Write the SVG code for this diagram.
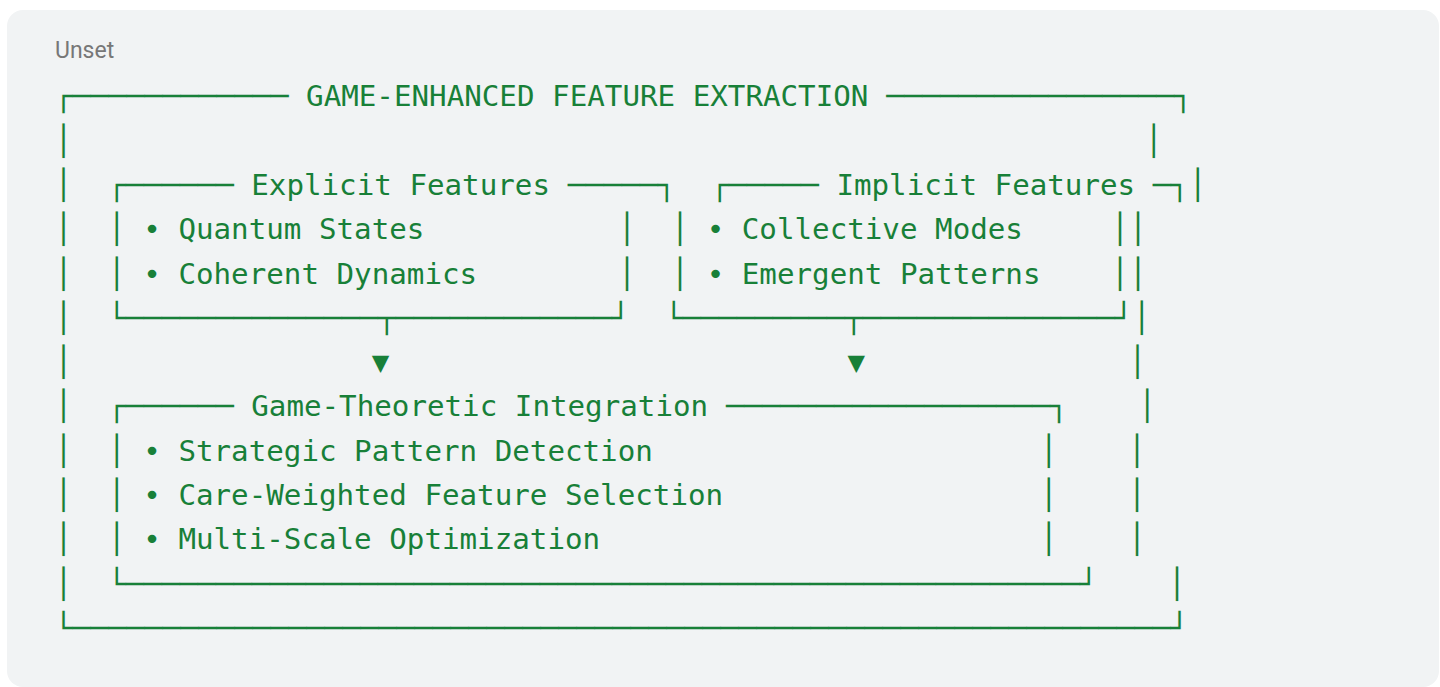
<svg xmlns="http://www.w3.org/2000/svg" width="1440" height="687" viewBox="0 0 1440 687">
<style>
.t{font-family:"DejaVu Sans Mono","Liberation Mono",monospace;font-size:29.2px;fill:#188038}
.b{font-family:"DejaVu Sans Mono","Liberation Mono",monospace;font-size:29.2px;fill:#188038}
.lbl{font-family:Roboto,"Liberation Sans",sans-serif;font-size:23px;fill:#777777}
.arr{font-family:"DejaVu Sans Mono","DejaVu Sans",monospace;font-size:29.2px;fill:#188038}
</style>
<rect x="7" y="10" width="1432" height="677" rx="16" fill="#f1f3f4"/>
<text class="lbl" x="55" y="58">Unset</text>

<g id="outer-box">
<text class="b" x="54.5" y="106.3" textLength="234" lengthAdjust="spacingAndGlyphs">┌────────────</text>
<text class="t" x="306.08" y="106.3">GAME-ENHANCED FEATURE EXTRACTION</text>
<text class="b" x="886.22" y="106.3" textLength="306" lengthAdjust="spacingAndGlyphs">────────────────┐</text>
<text class="b" x="54.5" y="150.6" textLength="18" lengthAdjust="spacingAndGlyphs">│</text>
<text class="b" x="1144.88" y="150.6" textLength="18" lengthAdjust="spacingAndGlyphs">│</text>
<text class="b" x="54.5" y="194.9" textLength="18" lengthAdjust="spacingAndGlyphs">│</text>
<text class="b" x="1188.86" y="194.9" textLength="18" lengthAdjust="spacingAndGlyphs">│</text>
<text class="b" x="54.5" y="239.2" textLength="18" lengthAdjust="spacingAndGlyphs">│</text>
<text class="b" x="1128.98" y="239.2" textLength="18" lengthAdjust="spacingAndGlyphs">│</text>
<text class="b" x="54.5" y="283.5" textLength="18" lengthAdjust="spacingAndGlyphs">│</text>
<text class="b" x="1128.98" y="283.5" textLength="18" lengthAdjust="spacingAndGlyphs">│</text>
<text class="b" x="54.5" y="327.8" textLength="18" lengthAdjust="spacingAndGlyphs">│</text>
<text class="b" x="1132.82" y="327.8" textLength="18" lengthAdjust="spacingAndGlyphs">│</text>
<text class="b" x="54.5" y="372.1" textLength="18" lengthAdjust="spacingAndGlyphs">│</text>
<text class="b" x="1128.6" y="372.1" textLength="18" lengthAdjust="spacingAndGlyphs">│</text>
<text class="b" x="54.5" y="416.4" textLength="18" lengthAdjust="spacingAndGlyphs">│</text>
<text class="b" x="1138.22" y="416.4" textLength="18" lengthAdjust="spacingAndGlyphs">│</text>
<text class="b" x="54.5" y="460.7" textLength="18" lengthAdjust="spacingAndGlyphs">│</text>
<text class="b" x="1128.14" y="460.7" textLength="18" lengthAdjust="spacingAndGlyphs">│</text>
<text class="b" x="54.5" y="505" textLength="18" lengthAdjust="spacingAndGlyphs">│</text>
<text class="b" x="1128.14" y="505" textLength="18" lengthAdjust="spacingAndGlyphs">│</text>
<text class="b" x="54.5" y="549.3" textLength="18" lengthAdjust="spacingAndGlyphs">│</text>
<text class="b" x="1128.14" y="549.3" textLength="18" lengthAdjust="spacingAndGlyphs">│</text>
<text class="b" x="54.5" y="593.6" textLength="18" lengthAdjust="spacingAndGlyphs">│</text>
<text class="b" x="1167.98" y="593.6" textLength="18" lengthAdjust="spacingAndGlyphs">│</text>
<text class="b" x="54.5" y="637.9" textLength="1134" lengthAdjust="spacingAndGlyphs">└─────────────────────────────────────────────────────────────┘</text>
</g>

<g id="explicit-features">
<text class="b" x="107.66" y="194.9" textLength="126" lengthAdjust="spacingAndGlyphs">┌──────</text>
<text class="t" x="251.24" y="194.9">Explicit Features</text>
<text class="b" x="567.68" y="194.9" textLength="108" lengthAdjust="spacingAndGlyphs">─────┐</text>
<text class="b" x="107.66" y="239.2" textLength="18" lengthAdjust="spacingAndGlyphs">│</text>
<text class="t" x="143.24" y="239.2">• Quantum States</text>
<text class="b" x="617.9" y="239.2" textLength="18" lengthAdjust="spacingAndGlyphs">│</text>
<text class="b" x="107.66" y="283.5" textLength="18" lengthAdjust="spacingAndGlyphs">│</text>
<text class="t" x="143.24" y="283.5">• Coherent Dynamics</text>
<text class="b" x="617.9" y="283.5" textLength="18" lengthAdjust="spacingAndGlyphs">│</text>
<text class="b" x="107.66" y="327.8" textLength="522" lengthAdjust="spacingAndGlyphs">└──────────────┬────────────┘</text>
</g>

<g id="implicit-features">
<text class="b" x="710.84" y="194.9" textLength="108" lengthAdjust="spacingAndGlyphs">┌─────</text>
<text class="t" x="836.42" y="194.9">Implicit Features</text>
<text class="b" x="1152.86" y="194.9" textLength="36" lengthAdjust="spacingAndGlyphs">─┐</text>
<text class="b" x="671.06" y="239.2" textLength="18" lengthAdjust="spacingAndGlyphs">│</text>
<text class="t" x="706.64" y="239.2">• Collective Modes</text>
<text class="b" x="1110.98" y="239.2" textLength="18" lengthAdjust="spacingAndGlyphs">│</text>
<text class="b" x="671.06" y="283.5" textLength="18" lengthAdjust="spacingAndGlyphs">│</text>
<text class="t" x="706.64" y="283.5">• Emergent Patterns</text>
<text class="b" x="1110.98" y="283.5" textLength="18" lengthAdjust="spacingAndGlyphs">│</text>
<text class="b" x="664.82" y="327.8" textLength="468" lengthAdjust="spacingAndGlyphs">└─────────┬──────────────┘</text>
</g>

<g id="connectors">
<text class="arr" x="380.6" y="372.1" text-anchor="middle">▼</text>
<text class="arr" x="856.4" y="372.1" text-anchor="middle">▼</text>
</g>

<g id="game-theoretic-integration">
<text class="b" x="107.66" y="416.4" textLength="126" lengthAdjust="spacingAndGlyphs">┌──────</text>
<text class="t" x="251.24" y="416.4">Game-Theoretic Integration</text>
<text class="b" x="725.9" y="416.4" textLength="342" lengthAdjust="spacingAndGlyphs">──────────────────┐</text>
<text class="b" x="107.66" y="460.7" textLength="18" lengthAdjust="spacingAndGlyphs">│</text>
<text class="t" x="143.24" y="460.7">• Strategic Pattern Detection</text>
<text class="b" x="1039.82" y="460.7" textLength="18" lengthAdjust="spacingAndGlyphs">│</text>
<text class="b" x="107.66" y="505" textLength="18" lengthAdjust="spacingAndGlyphs">│</text>
<text class="t" x="143.24" y="505">• Care-Weighted Feature Selection</text>
<text class="b" x="1039.82" y="505" textLength="18" lengthAdjust="spacingAndGlyphs">│</text>
<text class="b" x="107.66" y="549.3" textLength="18" lengthAdjust="spacingAndGlyphs">│</text>
<text class="t" x="143.24" y="549.3">• Multi-Scale Optimization</text>
<text class="b" x="1039.82" y="549.3" textLength="18" lengthAdjust="spacingAndGlyphs">│</text>
<text class="b" x="107.66" y="593.6" textLength="990" lengthAdjust="spacingAndGlyphs">└─────────────────────────────────────────────────────┘</text>
</g>
</svg>
